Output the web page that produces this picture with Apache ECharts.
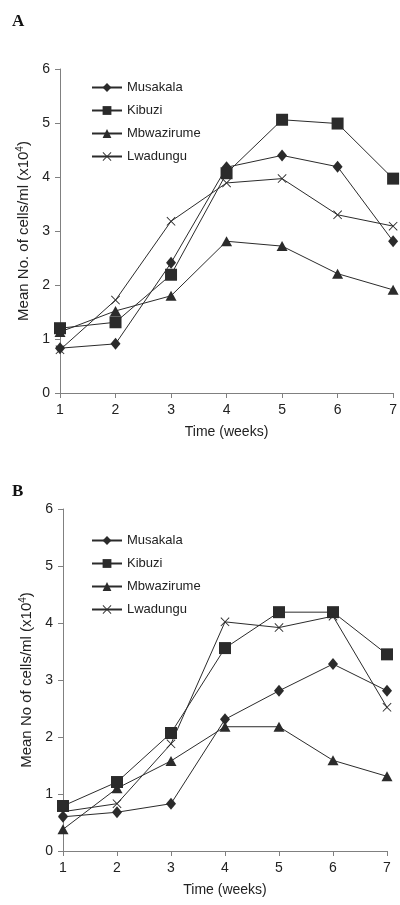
<!DOCTYPE html>
<html>
<head>
<meta charset="utf-8">
<script src="https://cdn.jsdelivr.net/npm/echarts@6/dist/echarts.min.js"></script>
<style>
  html, body { margin: 0; padding: 0; background: #fff; }
  #chart { width: 400px; height: 905px; }
</style>
</head>
<body>
<div id="chart"></div>
<script>
// data
const weeks = [1, 2, 3, 4, 5, 6, 7];
const seriesNames = ['Musakala', 'Kibuzi', 'Mbwazirume', 'Lwadungu'];

// panel A
const musakalaA = [0.83, 0.91, 2.41, 4.18, 4.40, 4.19, 2.81];
const kibuziA = [1.20, 1.31, 2.19, 4.07, 5.06, 4.99, 3.97];
const mbwazirumeA = [1.13, 1.52, 1.80, 2.81, 2.72, 2.21, 1.91];
const lwadunguA = [0.80, 1.72, 3.18, 3.89, 3.97, 3.30, 3.09];

// panel B
const musakalaB = [0.60, 0.68, 0.83, 2.31, 2.81, 3.28, 2.81];
const kibuziB = [0.79, 1.21, 2.07, 3.56, 4.19, 4.19, 3.45];
const mbwazirumeB = [0.38, 1.10, 1.58, 2.18, 2.18, 1.59, 1.31];
const lwadunguB = [0.69, 0.83, 1.88, 4.02, 3.92, 4.12, 2.52];

const ink = '#2b2b2b';
const axisColor = '#808080';
const font = 'Liberation Sans, Arial, sans-serif';

// thin "x" marker
const crossPath = 'path://M0,0.7L0.7,0L5,4.3L9.3,0L10,0.7L5.7,5L10,9.3L9.3,10L5,5.7L0.7,10L0,9.3L4.3,5Z';
const symbols = ['diamond', 'rect', 'triangle', crossPath];
const symbolSizes = [[10, 12], 12, [11, 10], 9];

const toPairs = (vals) => vals.map((v, i) => [weeks[i], v]);

const makeSeries = (sets, idx) => sets.map((vals, i) => ({
  name: seriesNames[i],
  type: 'line',
  xAxisIndex: idx,
  yAxisIndex: idx,
  data: toPairs(vals),
  symbol: symbols[i],
  symbolSize: symbolSizes[i],
  showAllSymbol: true,
  clip: false,
  lineStyle: { color: ink, width: 1 },
  itemStyle: { color: ink },
  emphasis: { disabled: true },
  z: 3 + i
}));

const xAxisBase = (idx) => ({
  type: 'value',
  gridIndex: idx,
  min: 1,
  max: 7,
  interval: 1,
  name: 'Time (weeks)',
  nameLocation: 'middle',
  nameGap: 32,
  nameTextStyle: { fontFamily: font, fontSize: 14, color: '#222' },
  axisLine: { lineStyle: { color: axisColor, width: 1 } },
  axisTick: { show: true, length: 5, lineStyle: { color: axisColor } },
  axisLabel: { fontFamily: font, fontSize: 14, color: '#222', margin: 10 },
  splitLine: { show: false }
});

const yAxisBase = (idx, label, gap) => ({
  type: 'value',
  gridIndex: idx,
  min: 0,
  max: 6,
  interval: 1,
  name: label,
  nameLocation: 'middle',
  nameGap: gap,
  nameRotate: 90,
  nameTextStyle: {
    fontFamily: font, fontSize: 15, color: '#222',
    rich: { sup: { fontFamily: font, fontSize: 10, color: '#222', verticalAlign: 'top', padding: [0, 0, 8, 0] } }
  },
  axisLine: { show: true, lineStyle: { color: axisColor, width: 1 } },
  axisTick: { show: true, length: 5, lineStyle: { color: axisColor } },
  axisLabel: { fontFamily: font, fontSize: 14, color: '#222', margin: 10 },
  splitLine: { show: false }
});

const legendBase = (top) => ({
  orient: 'vertical',
  left: 86,
  top: top,
  itemWidth: 30,
  itemHeight: 11,
  itemGap: 10,
  selectedMode: false,
  textStyle: { fontFamily: font, fontSize: 13, color: '#222' },
  data: seriesNames
});

const chart = echarts.init(document.getElementById('chart'), null, { renderer: 'canvas' });

chart.setOption({
  animation: false,
  backgroundColor: '#fff',
  title: [
    { text: 'A', left: 7, top: 8, textStyle: { fontFamily: 'Liberation Serif, serif', fontWeight: 'bold', fontSize: 17, color: '#111' } },
    { text: 'B', left: 7, top: 478, textStyle: { fontFamily: 'Liberation Serif, serif', fontWeight: 'bold', fontSize: 17, color: '#111' } }
  ],
  grid: [
    { left: 60, top: 69, width: 334, height: 324 },
    { left: 63, top: 509, width: 324, height: 342 }
  ],
  legend: [
    Object.assign(legendBase(76), { id: 'legA' }),
    Object.assign(legendBase(529), { id: 'legB' })
  ],
  xAxis: [xAxisBase(0), xAxisBase(1)],
  yAxis: [
    yAxisBase(0, 'Mean No. of cells/ml (x10{sup|4})', 20),
    yAxisBase(1, 'Mean No of cells/ml (x10{sup|4})', 26)
  ],
  series: [
    ...makeSeries([musakalaA, kibuziA, mbwazirumeA, lwadunguA], 0),
    ...makeSeries([musakalaB, kibuziB, mbwazirumeB, lwadunguB], 1)
  ]
});
</script>
</body>
</html>
